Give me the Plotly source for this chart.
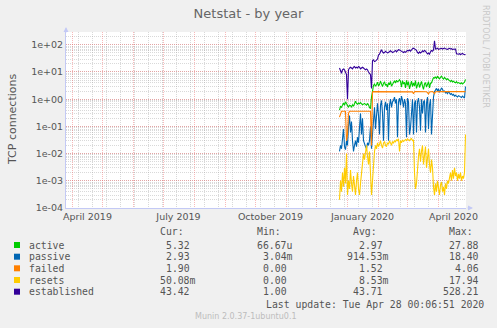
import pandas as pd
import plotly.graph_objects as go

# ---------------------------------------------------------------- data
start_day = "2019-12-24"
n_days = 127
days = pd.date_range(start_day, periods=n_days, freq="D")

active = [
    0.40, 0.55, 0.50, 0.65, 0.72, 0.60, 0.80, 0.70,
    0.55, 0.50, 0.60, 0.58, 0.52, 0.62, 0.55,
    0.75, 0.85, 0.70,
    0.65, 0.72, 0.68, 0.75, 0.70, 0.62, 0.66, 0.70, 0.64, 0.60, 0.68, 0.62, 0.50, 0.45,
    1.2, 2.0, 3.2, 3.6,
    3.0, 3.4, 4.2, 3.1, 3.5, 4.6, 3.3, 2.9, 3.8, 4.4, 3.2, 3.6, 2.8, 4.0, 3.4, 4.5, 3.0, 3.5,
    4.2, 4.8, 3.9, 5.0, 4.4, 4.6, 5.2,
    4.5, 2.8, 4.8, 3.6, 4.2, 2.6, 4.9, 3.2, 4.4, 2.4, 3.8, 4.6, 2.9, 4.0, 3.1, 4.8,
    2.5, 3.7, 4.3, 2.7, 3.9, 4.5, 3.0, 2.3, 3.6, 4.1, 2.8, 3.5, 4.4, 2.6, 3.8, 4.0,
    5.0, 6.2, 6.0,
    6.5, 5.8, 6.8, 6.2, 5.6, 6.4, 7.0, 6.0, 5.5, 6.3, 5.8, 5.2, 5.6, 5.0,
    4.8, 4.5, 4.9, 4.3, 4.6, 4.2, 4.0, 4.4, 3.9, 4.1, 3.8, 3.7, 4.0, 3.6, 3.9, 4.2, 5.32,
]

passive = [
    0.012, 0.02, 0.015, 0.05, 0.08, 0.018, 0.014,
    0.03, 0.02,
    0.1, 0.25, 0.06, 0.15, 0.03,
    0.012, 0.02, 0.03, 0.018, 0.04, 0.025, 0.15, 0.3, 0.05, 0.2,
    0.03, 0.02, 0.018, 0.015, 0.025, 0.02, 0.03,
    0.1, 0.015, 0.05,
    0.3, 0.5, 0.08, 0.4, 0.7, 0.25, 0.05, 0.6, 0.9, 0.3,
    0.03, 0.5, 0.8, 0.4, 0.7, 0.03, 0.6, 1.0, 0.5, 0.8,
    0.9, 1.2, 0.7, 1.0, 0.04, 0.8, 1.1, 0.6, 1.3, 0.9,
    0.5, 1.0, 0.7, 0.04, 1.1, 0.8, 0.05, 0.09, 0.6, 1.0,
    0.05, 0.7, 0.9, 0.06, 0.8, 1.1, 0.5, 0.07, 1.0, 0.3,
    0.8, 0.9, 0.06, 0.7, 1.2, 0.08, 0.6, 1.0, 0.05, 0.4, 1.2,
    1.9, 2.2, 2.5, 2.0, 2.4, 1.8, 2.1, 2.6, 2.3, 1.9,
    2.0, 1.7, 1.8, 1.6, 1.9, 1.7, 1.5, 1.6, 1.4, 1.5,
    1.3, 1.4, 1.3, 1.2, 1.35, 1.25, 1.2, 1.15, 1.3, 1.2, 1.1, 2.93,
]

failed = [
    0.22, 0.30,
    0.36, 0.36, 0.37, 0.36, 0.36,
    0.03, 0.05, 0.30,
    0.36, 0.36, 0.37, 0.36, 0.36, 0.35, 0.36, 0.36, 0.37, 0.36, 0.36,
    0.36, 0.35, 0.36, 0.36, 0.37, 0.36, 0.36, 0.36, 0.36, 0.35, 0.36,
    0.02, 1.85,
    1.90, 1.90, 1.92, 1.90, 1.88, 1.90, 1.90, 1.91, 1.90, 1.90,
    1.89, 1.90, 1.90, 1.92, 1.90, 1.90, 1.88, 1.90, 1.90, 1.91,
    1.90, 1.90, 1.89, 1.90, 1.92, 1.90, 1.90, 1.90, 1.88, 1.90,
    1.90, 1.91, 1.90, 1.90, 1.90, 1.89, 1.90, 1.92, 1.90, 1.85,
    1.60, 1.88, 1.90, 1.90, 1.91, 1.90, 1.90, 1.89, 1.90, 1.90,
    1.92, 1.90, 1.90, 1.88, 1.75, 1.55, 1.85, 1.90, 1.90, 1.91,
    1.80, 1.60, 1.88, 1.90, 1.90, 1.92, 1.90, 1.90, 1.89, 1.90,
    1.90, 1.91, 1.90, 1.90, 1.88, 1.90, 1.90, 1.92, 1.90, 1.90,
    1.89, 1.90, 1.90, 1.91, 1.90, 1.90, 1.88, 1.90, 1.90, 1.91,
    1.90, 1.90, 1.90,
]

resets = [
    2e-4,
    1e-3, 4e-4, 2e-3, 6e-4, 3e-3, 8e-4,
    0.01, 3e-4,
    1e-3, 5e-4, 2.5e-3, 8e-4, 4e-4, 1.5e-3, 6e-4, 3e-4, 1e-3, 2e-3, 5e-4, 3e-4,
    8e-4, 2e-3, 5e-3, 0.01, 0.006, 0.015, 0.02, 0.008, 0.004, 0.012,
    0.002, 3e-4, 0.001,
    0.006, 0.012, 0.02, 0.015, 0.025, 0.018, 0.022, 0.03, 0.02, 0.016,
    0.024, 0.028, 0.02, 0.018, 0.025, 0.022, 0.03, 0.026, 0.02, 0.028,
    0.024, 0.03, 0.027, 0.032, 0.03, 0.035,
    0.012, 0.03, 0.025, 0.032, 0.028, 0.03, 0.033, 0.03, 0.035, 0.032,
    0.03, 0.034, 0.036, 0.03, 0.032,
    0.002, 5e-4, 8e-4, 0.003, 0.008, 0.015, 0.005, 0.012, 0.02, 0.004,
    0.01, 0.018, 0.003, 0.008, 0.015, 0.004, 0.002, 0.006, 0.003,
    6e-4, 3e-4, 8e-4, 4e-4, 1e-3, 5e-4, 3e-4, 7e-4, 9e-4, 4e-4,
    6e-4, 3e-4, 8e-4, 5e-4, 1e-3,
    8e-4, 1.5e-3, 2e-3, 1e-3, 2.5e-3, 1.2e-3, 3e-3, 1.5e-3, 2e-3, 1e-3,
    1.8e-3, 1.2e-3, 2e-3, 1e-3, 1.5e-3, 1.2e-3, 2e-3,
    0.05008,
]

established = [
    14, 11, 9, 12, 13, 12, 10, 8,
    1.0,
    12, 14, 15, 14, 13, 15, 16, 14, 15, 14, 16, 15, 13, 14,
    15, 14, 13, 12, 13, 12, 10, 9,
    8, 2.5,
    26, 28, 24, 25, 27, 30,
    42, 45, 55, 65,
    55, 50, 52, 58, 54, 50, 52, 55, 60, 56, 52, 54, 58, 62, 55, 60,
    66, 64, 62, 58,
    55, 52, 56, 53, 58,
    62, 60, 64, 58, 66,
    72, 75, 70, 68, 62,
    52, 48, 55, 50, 54,
    60, 56, 62, 58,
    48, 46, 50, 45, 55,
    62, 58, 64,
    140,
    70, 72, 75, 68, 70, 72, 74, 70, 72, 76, 72, 70, 68, 72, 74, 70, 72, 68, 70, 72, 70,
    47, 46, 45, 47, 44, 46, 48, 45, 44, 43.42,
]

series_names = ["active", "passive", "failed", "resets", "established"]
series_values = [active, passive, failed, resets, established]
series_colors = ["#00CC00", "#0066B3", "#FF8000", "#FFCC00", "#330099"]

cur_text = ["5.32", "2.93", "1.90", "50.08m", "43.42"]
min_text = ["66.67u", "3.04m", "0.00", "0.00", "1.00"]
avg_text = ["2.97", "914.53m", "1.52", "8.53m", "43.71"]
max_text = ["27.88", "18.40", "4.06", "17.94", "528.21"]

y_tick_vals = [1e-4, 1e-3, 1e-2, 1e-1, 1e0, 1e1, 1e2]
y_tick_text = ["1e-04", "1e-03", "1e-02", "1e-01", "1e+00", "1e+01", "1e+02"]
x_label_dates = ["2019-04-16", "2019-07-16", "2019-10-16", "2020-01-16", "2020-04-16"]
x_label_text = ["April 2019", "July 2019", "October 2019", "January 2020", "April 2020"]
x_range = ["2019-03-25 12:00", "2020-04-28 12:00"]

# ---------------------------------------------------------------- geometry
W, H = 497, 328
PL, PR, PT, PB = 66, 466, 32, 208          # plot box in page pixels


def px(x):
    return (x - PL) / (PR - PL)


def py(y):
    return (PB - y) / (PB - PT)


SANS = "DejaVu Sans"
MONO = "DejaVu Sans Mono"
TXT = "#555555"
AXIS = "#c3c9f5"
MAJOR = "rgba(240,90,90,0.42)"
MINOR = "rgba(160,160,160,0.40)"

fig = go.Figure()
for name, vals, col in zip(series_names, series_values, series_colors):
    fig.add_trace(go.Scatter(
        x=days, y=vals, mode="lines", name=name,
        line=dict(color=col, width=1.1), showlegend=False,
    ))

fig.update_layout(
    width=W, height=H, autosize=False,
    margin=dict(l=PL, r=W - PR, t=PT, b=H - PB, pad=0),
    paper_bgcolor="#f0f0f0", plot_bgcolor="#ffffff",
    font=dict(family=SANS, size=9.5, color=TXT),
    title=dict(text="Netstat - by year", x=0.5, xref="container", xanchor="center",
               y=1 - 13 / H, yref="container", yanchor="middle",
               font=dict(family=SANS, size=13, color="#666666")),
    xaxis=dict(
        type="date", range=x_range,
        tickmode="array", tickvals=x_label_dates, ticktext=x_label_text,
        ticks="", showgrid=False, zeroline=False,
        showline=True, linecolor=AXIS, linewidth=1,
        tickfont=dict(family=SANS, size=9.5, color=TXT),
        minor=dict(tick0="2019-04-07", dtick=14 * 86400000, showgrid=True,
                   gridcolor=MINOR, griddash="1px,1px", gridwidth=1, ticks=""),
    ),
    xaxis2=dict(
        type="date", range=x_range, overlaying="x", anchor="y",
        tick0="2019-04-01", dtick="M1", showgrid=True, gridcolor=MAJOR,
        griddash="1px,1px", gridwidth=1, showticklabels=False, ticks="",
        zeroline=False, showline=False,
    ),
    yaxis=dict(
        type="log", range=[-4, 2.47],
        tickmode="array", tickvals=y_tick_vals, ticktext=y_tick_text,
        ticks="", showgrid=True, gridcolor=MAJOR, griddash="1px,1px", gridwidth=1,
        zeroline=False, showline=True, linecolor=AXIS, linewidth=1,
        tickfont=dict(family=SANS, size=9.5, color=TXT),
        minor=dict(dtick="D1", showgrid=True, gridcolor=MINOR,
                   griddash="1px,1px", gridwidth=1, ticks=""),
    ),
)

# invisible companion trace so that the monthly grid axis is drawn
fig.add_trace(go.Scatter(x=days, y=established, xaxis="x2", mode="lines",
                         line=dict(width=0, color="rgba(0,0,0,0)"),
                         hoverinfo="skip", showlegend=False))

ann = []
# y-axis title
ann.append(dict(text="TCP connections", x=px(12), y=py(120), xref="paper", yref="paper",
                textangle=-90, showarrow=False, xanchor="center", yanchor="middle",
                font=dict(family=SANS, size=11, color=TXT)))
# vertical watermark
ann.append(dict(text="RRDTOOL / TOBI OETIKER", x=px(486), y=py(56), xref="paper", yref="paper",
                textangle=90, showarrow=False, xanchor="center", yanchor="middle",
                font=dict(family=SANS, size=8, color="#c8c8c8")))
# axis arrow heads
ann.append(dict(text="", x=px(473), y=0, xref="paper", yref="paper", showarrow=True,
                ax=-7, ay=0, arrowhead=2, arrowsize=1, arrowwidth=1, arrowcolor=AXIS))
ann.append(dict(text="", x=0, y=py(27), xref="paper", yref="paper", showarrow=True,
                ax=0, ay=7, arrowhead=2, arrowsize=1, arrowwidth=1, arrowcolor=AXIS))

# legend table
CW = 5.9
LFONT = dict(family=MONO, size=9.8, color=TXT)
header_y = 232
row_y = [245, 256.7, 268.3, 280, 291.7]
col_start = {"Cur:": 152, "Min:": 249.5, "Avg:": 345, "Max:": 441}
col_vals = {"Cur:": cur_text, "Min:": min_text, "Avg:": avg_text, "Max:": max_text}


def cell(text, x, y):
    return dict(text=text, x=px(x), y=py(y), xref="paper", yref="paper",
                showarrow=False, xanchor="left", yanchor="middle", font=LFONT)


for head, x0 in col_start.items():
    ann.append(cell(head, x0 + CW, header_y))
    for txt, yy in zip(col_vals[head], row_y):
        num = txt.rstrip("mun")
        ann.append(cell(txt, x0 + (6 - len(num)) * CW, yy))

shapes = []
for name, col, yy in zip(series_names, series_colors, row_y):
    ann.append(cell(name, 26.5, yy))
    shapes.append(dict(type="rect", xref="paper", yref="paper",
                       x0=px(14), x1=px(20), y0=py(yy + 3), y1=py(yy - 3),
                       fillcolor=col, line=dict(width=0)))

ann.append(dict(text="Last update: Tue Apr 28 00:06:51 2020", x=px(486), y=py(304),
                xref="paper", yref="paper", showarrow=False, xanchor="right",
                yanchor="middle", font=LFONT))
ann.append(dict(text="Munin 2.0.37-1ubuntu0.1", x=px(246), y=py(316.5),
                xref="paper", yref="paper", showarrow=False, xanchor="center",
                yanchor="middle", font=dict(family=SANS, size=8, color="#bdbdbd")))

fig.update_layout(annotations=ann, shapes=shapes)
fig.write_html("out.html")
